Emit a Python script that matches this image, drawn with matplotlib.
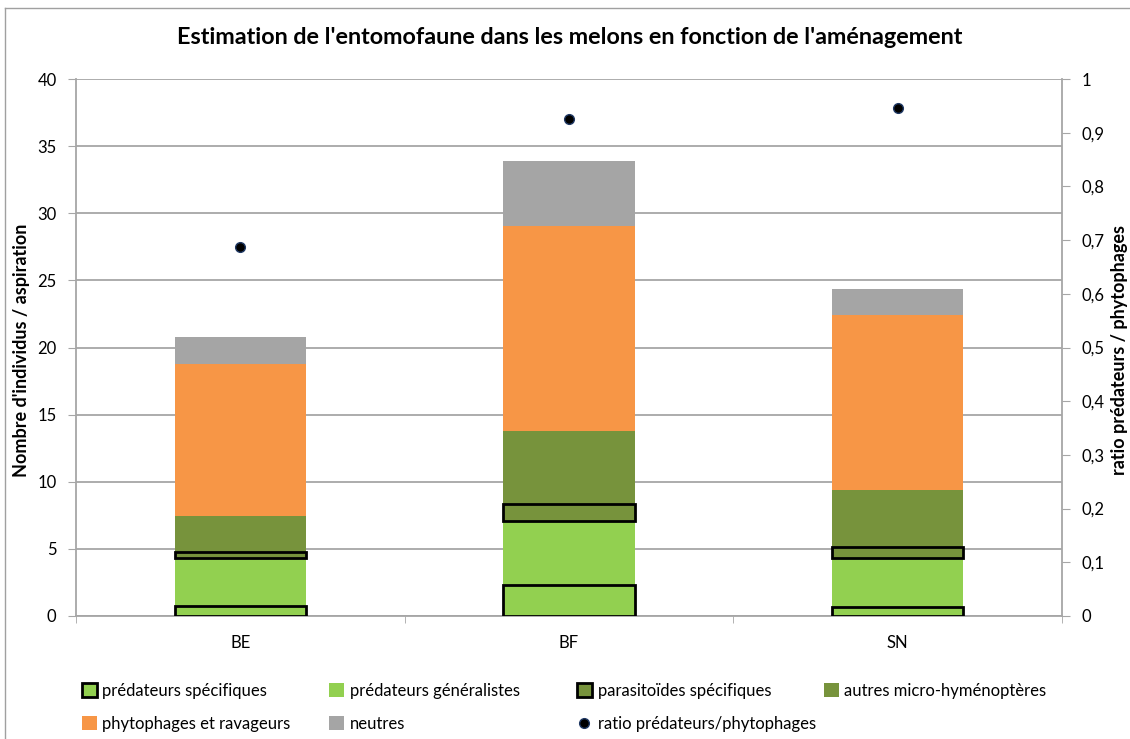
import matplotlib
matplotlib.use("Agg")
import matplotlib.pyplot as plt
from matplotlib.lines import Line2D
from matplotlib.patches import Patch
import numpy as np

plt.rcParams["font.family"] = ["Lato", "DejaVu Sans"]

# data
sites = ["BE", "BF", "SN"]
pred_specifiques = [0.75, 2.3, 0.65]
pred_generalistes = [3.55, 4.75, 3.65]
parasitoides = [0.45, 1.3, 0.85]
autres_micro = [2.7, 5.4, 4.25]
phytophages = [11.3, 15.3, 13.0]
neutres = [2.05, 4.85, 1.95]
ratio = [0.687, 0.925, 0.946]

series = [
    ("prédateurs spécifiques", pred_specifiques, "#92D050", True),
    ("prédateurs généralistes", pred_generalistes, "#92D050", False),
    ("parasitoïdes spécifiques", parasitoides, "#77933C", True),
    ("autres micro-hyménoptères", autres_micro, "#77933C", False),
    ("phytophages et ravageurs", phytophages, "#F79646", False),
    ("neutres", neutres, "#A5A5A5", False),
]

W, H = 1130, 739
fig = plt.figure(figsize=(W / 100, H / 100), dpi=100)
ax = fig.add_axes([76 / W, 1 - 616 / H, (1062 - 76) / W, (616 - 79) / H])

grid_col = "#A6A6A6"
x = np.arange(len(sites))
bottom = np.zeros(len(sites))
handles = []
for label, vals, col, outlined in series:
    vals = np.array(vals)
    if outlined:
        ax.bar(x, vals, 0.4, bottom=bottom, color=col, edgecolor="black",
               linewidth=2, zorder=4)
        handles.append(Patch(facecolor=col, edgecolor="black", linewidth=2, label=label))
    else:
        ax.bar(x, vals, 0.4, bottom=bottom, color=col, edgecolor="none", zorder=3)
        handles.append(Patch(facecolor=col, edgecolor="none", label=label))
    bottom += vals

ax.set_xlim(-0.5, 2.5)
ax.set_ylim(0, 40)
ax.set_yticks(range(0, 41, 5))
ax.set_xticks(x)
ax.set_xticklabels(sites)
ax.set_xticks([-0.5, 0.5, 1.5, 2.5], minor=True)
ax.yaxis.grid(True, color=grid_col, linewidth=1.3, zorder=0)
ax.set_axisbelow(True)
for s in ["top", "right"]:
    ax.spines[s].set_visible(False)
for s in ["left", "bottom"]:
    ax.spines[s].set_color(grid_col)
    ax.spines[s].set_linewidth(1.3)
ax.tick_params(axis="y", length=6, color=grid_col, labelsize=12, pad=8)
ax.tick_params(axis="x", which="major", length=0, labelsize=12, pad=14)
ax.tick_params(axis="x", which="minor", length=5, color=grid_col)

ax2 = ax.twinx()
ax2.set_ylim(0, 1)
ax2.set_yticks(np.arange(0, 1.01, 0.1))
ax2.set_yticklabels(["0"] + [f"0,{i}" for i in range(1, 10)] + ["1"])
for s in ["top", "left", "bottom"]:
    ax2.spines[s].set_visible(False)
ax2.spines["right"].set_color(grid_col)
ax2.spines["right"].set_linewidth(1.3)
ax2.tick_params(axis="y", length=6, color=grid_col, labelsize=12, pad=8)
ax2.plot(x, ratio, linestyle="none", marker="o", markersize=7,
         markerfacecolor="black", markeredgecolor="#1F3864", zorder=5)
handles.append(Line2D([], [], linestyle="none", marker="o", markersize=7,
                      markerfacecolor="black", markeredgecolor="#1F3864",
                      label="ratio prédateurs/phytophages"))

fig.text(22 / W, 1 - 350 / H, "Nombre d'individus / aspiration", rotation=90,
         ha="center", va="center", fontsize=13, fontweight="bold")
fig.text(1120 / W, 1 - 350 / H, "ratio prédateurs / phytophages", rotation=90,
         ha="center", va="center", fontsize=13, fontweight="bold")

fig.suptitle("Estimation de l'entomofaune dans les melons en fonction de l'aménagement",
             x=570 / W, y=1 - 37 / H, va="center", fontsize=16.8, fontweight="bold")

# legend: 4 evenly spaced columns, filled row by row
columns = [[0, 4], [1, 5], [2, 6], [3]]
col_x = [83, 330, 578, 825]
for idx, cx in zip(columns, col_x):
    fig.legend([handles[i] for i in idx], [handles[i].get_label() for i in idx],
               loc="upper left", bbox_to_anchor=((cx - 8) / W, 1 - 676 / H),
               frameon=False, fontsize=12, handlelength=0.9, handleheight=0.9,
               handletextpad=0.35, labelspacing=1.05, borderaxespad=0)

# outer chart frame
fig.add_artist(Line2D([5 / W, 5 / W], [0, 1 - 8 / H], color="#A0A0A0", lw=1,
                      transform=fig.transFigure))
fig.add_artist(Line2D([5 / W, 1], [1 - 8 / H, 1 - 8 / H], color="#A0A0A0", lw=1,
                      transform=fig.transFigure))

fig.savefig("out.png", dpi=100)
